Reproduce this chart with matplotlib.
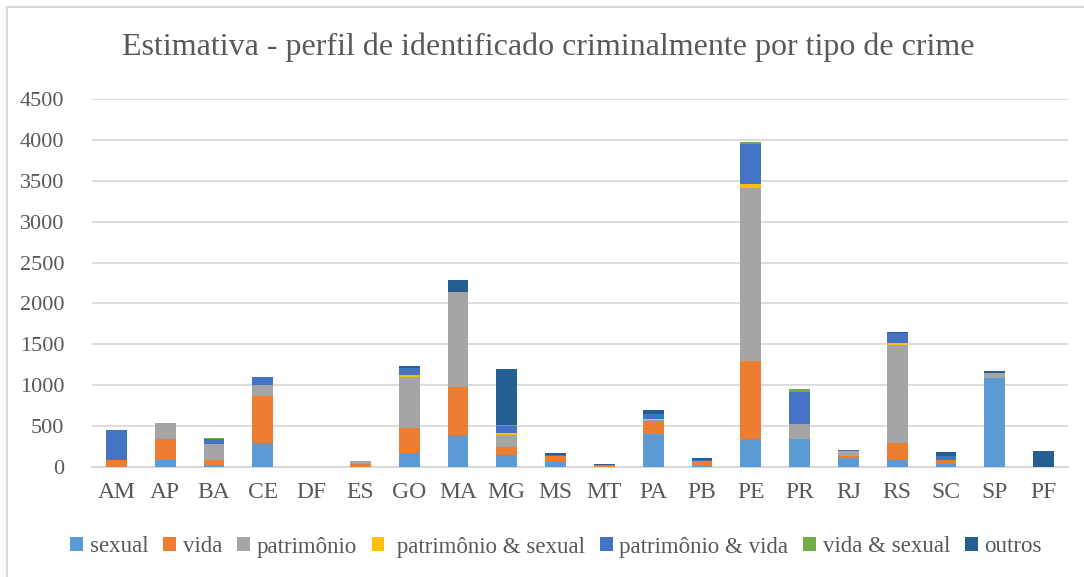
import numpy as np
import matplotlib
matplotlib.use('Agg')
import matplotlib.pyplot as plt
from matplotlib.lines import Line2D

# Data
states = ['AM', 'AP', 'BA', 'CE', 'DF', 'ES', 'GO', 'MA', 'MG', 'MS',
          'MT', 'PA', 'PB', 'PE', 'PR', 'RJ', 'RS', 'SC', 'SP', 'PF']
sexual = [0, 90, 25, 290, 0, 0, 170, 390, 145, 65,
          5, 405, 15, 340, 340, 115, 90, 40, 1090, 0]
vida = [85, 250, 65, 580, 0, 40, 310, 585, 100, 65,
        15, 155, 60, 955, 0, 25, 200, 50, 0, 0]
patrimonio = [0, 195, 195, 130, 0, 35, 620, 1170, 145, 10,
              0, 15, 0, 2120, 185, 55, 1200, 0, 55, 0]
patr_sexual = [0, 0, 0, 0, 0, 0, 25, 0, 30, 0,
               0, 10, 0, 50, 0, 0, 25, 0, 10, 0]
patr_vida = [365, 0, 55, 100, 0, 0, 90, 0, 85, 10,
             0, 65, 10, 480, 390, 15, 120, 50, 0, 0]
vida_sexual = [0, 0, 15, 0, 0, 0, 0, 0, 10, 0,
               0, 0, 0, 30, 35, 0, 0, 0, 0, 0]
outros = [0, 0, 0, 0, 0, 0, 25, 145, 680, 20,
          15, 45, 25, 0, 0, 0, 15, 45, 15, 195]

series = [
    ('sexual', sexual, '#5B9BD5'),
    ('vida', vida, '#ED7D31'),
    ('patrimônio', patrimonio, '#A5A5A5'),
    (' patrimônio & sexual', patr_sexual, '#FFC000'),
    ('patrimônio & vida', patr_vida, '#4472C4'),
    ('vida & sexual', vida_sexual, '#70AD47'),
    ('outros', outros, '#255E91'),
]

plt.rcParams['font.family'] = ['Liberation Serif', 'DejaVu Serif']
text_color = '#595959'
grid_color = '#D9D9D9'

W, H = 1084, 577
fig = plt.figure(figsize=(W / 100, H / 100), dpi=100)
ax = fig.add_axes([92 / W, 1 - 467 / H, (1068 - 92) / W, (467 - 99) / H])

x = np.arange(len(states))
bottom = np.zeros(len(states))
for label, vals, color in series:
    vals = np.array(vals, dtype=float)
    ax.bar(x, vals, width=0.43, bottom=bottom, color=color, label=label,
           linewidth=0, zorder=3)
    bottom += vals

ax.set_xlim(-0.5, len(states) - 0.5)
ax.set_ylim(0, 4500)
ax.set_yticks(np.arange(0, 4501, 500))
ax.set_xticks(x)
ax.set_xticklabels(states)
ax.yaxis.grid(True, color=grid_color, linewidth=1.3, zorder=0)
for s in ['top', 'right', 'left']:
    ax.spines[s].set_visible(False)
ax.spines['bottom'].set_color(grid_color)
ax.spines['bottom'].set_linewidth(1.5)
ax.tick_params(axis='both', length=0, colors=text_color)
ax.tick_params(axis='y', pad=20, labelsize=16)
ax.tick_params(axis='x', pad=11, labelsize=17)

fig.text(0.506, 1 - 47 / H, 'Estimativa - perfil de identificado criminalmente por tipo de crime',
         ha='center', va='center', fontsize=23, color=text_color)

fig.legend(loc='center', bbox_to_anchor=(0.513, 1 - 547 / H), ncol=7, frameon=False,
           fontsize=16.5, handlelength=0.55, handleheight=0.55, handletextpad=0.3,
           columnspacing=0.65, labelcolor=text_color)

# chart border (left and top visible)
fig.add_artist(Line2D([7 / W, 7 / W], [0, 1 - 7 / H], color=grid_color, linewidth=1.5,
                      transform=fig.transFigure))
fig.add_artist(Line2D([7 / W, 1], [1 - 7 / H, 1 - 7 / H], color=grid_color, linewidth=1.5,
                      transform=fig.transFigure))

fig.savefig('out.png', dpi=100)
